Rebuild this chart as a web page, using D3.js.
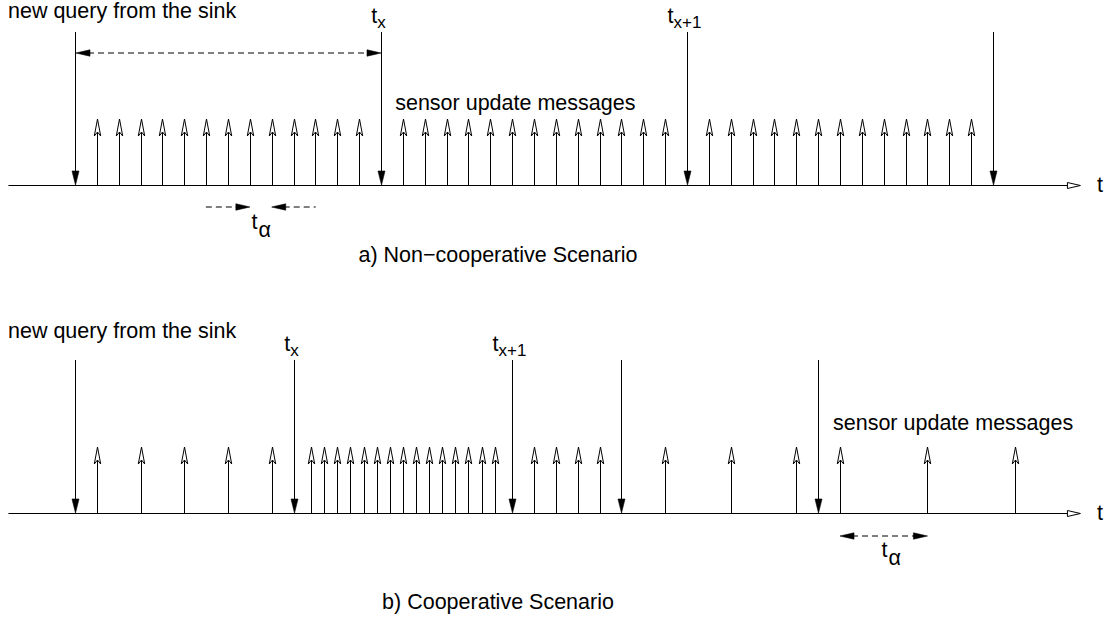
<!DOCTYPE html>
<html>
<head>
<meta charset="utf-8">
<script src="https://cdn.jsdelivr.net/npm/d3@7"></script>
<style>
  body { margin: 0; background: #fff; }
  svg text { font-family: 'Liberation Sans', Arial, Helvetica, sans-serif; font-size: 21.5px; fill: #000; }
</style>
</head>
<body>
<div id="chart"></div>
<script>
// time is counted in sensor update periods, 0 = first query from the sink
const topQueries = [0, 14, 28, 42]
const topUpdates = [1, 2, 3, 4, 5, 6, 7, 8, 9, 10, 11, 12, 13,
  15, 16, 17, 18, 19, 20, 21, 22, 23, 24, 25, 26, 27,
  29, 30, 31, 32, 33, 34, 35, 36, 37, 38, 39, 40, 41]
const topMarks = [{ at: 14, sub: 'x' }, { at: 28, sub: 'x+1' }]

const bottomQueries = [0, 10, 20, 25, 34]
const bottomUpdates = [1, 3, 5, 7, 9,
  10.8, 11.4, 12.0, 12.6, 13.2, 13.8, 14.4, 15.0, 15.6, 16.2, 16.8, 17.4, 18.0, 18.6, 19.2,
  21, 22, 23, 24, 27, 30, 33, 35, 39, 43]
const bottomMarks = [{ at: 10, sub: 'x' }, { at: 20, sub: 'x+1' }]

const axisExtent = [-3.07, 46]

const width = 1105
const height = 619
const QUERY_H = 153
const UPDATE_H = 66

const panels = [
  {
    baseline: 185,
    queries: topQueries,
    updates: topUpdates,
    marks: topMarks,
    queryLabelY: 18,
    msgLabel: { at: 14.65, dy: -75 },
    span: { from: 0, to: 14, dy: -132 },
    alpha: { from: 8, to: 9, inward: true, dy: 22, shift: 0 },
    caption: 'a) Non\u2212cooperative Scenario',
    captionDy: 77
  },
  {
    baseline: 513,
    queries: bottomQueries,
    updates: bottomUpdates,
    marks: bottomMarks,
    queryLabelY: 338,
    msgLabel: { at: 34.68, dy: -83 },
    span: null,
    alpha: { from: 35, to: 39, inward: false, dy: 23, shift: 7 },
    caption: 'b) Cooperative Scenario',
    captionDy: 96
  }
]

const x = d3.scaleLinear()
  .domain([0, 42])
  .range([75, 993])

const axisScale = x.copy()
  .domain(axisExtent)
  .range([x(axisExtent[0]), x(axisExtent[1]) - 13])

const px = v => Math.round(x(v)) + 0.5

const svg = d3.select('#chart').append('svg')
  .attr('width', width)
  .attr('height', height)

// filled head pointing at (tx, ty) coming from direction (dx, dy)
function filledHead (g, tx, ty, dx, dy, len, half) {
  const bx = tx - dx * len
  const by = ty - dy * len
  g.append('path')
    .attr('d', `M${tx},${ty}L${bx - dy * half},${by + dx * half}L${bx + dy * half},${by - dx * half}Z`)
    .attr('fill', '#000')
    .attr('stroke', '#000')
    .attr('stroke-width', 0.6)
}

function dashedSpan (g, x0, x1, y, inward) {
  const line = g.append('g')
  if (inward) {
    line.append('line').attr('x1', x0 - 44).attr('x2', x0 - 12).attr('y1', y).attr('y2', y)
    line.append('line').attr('x1', x1 + 12).attr('x2', x1 + 44).attr('y1', y).attr('y2', y)
    filledHead(g, x0, y, 1, 0, 14, 3.2)
    filledHead(g, x1, y, -1, 0, 14, 3.2)
  } else {
    line.append('line').attr('x1', x0 + 12).attr('x2', x1 - 12).attr('y1', y).attr('y2', y)
    filledHead(g, x0, y, -1, 0, 14, 3.2)
    filledHead(g, x1, y, 1, 0, 14, 3.2)
  }
  line.selectAll('line')
    .attr('stroke', '#000')
    .attr('stroke-width', 1)
    .attr('stroke-dasharray', '6,4')
}

panels.forEach(p => {
  const g = svg.append('g')
  const base = p.baseline

  //
  // time axis with open arrow head
  g.append('g')
    .attr('transform', `translate(0, ${base})`)
    .call(d3.axisBottom(axisScale).tickValues([]).tickSizeOuter(0))
    .call(a => a.select('.domain').attr('stroke', '#000'))
  const tipX = x(axisExtent[1])
  g.append('path')
    .attr('d', `M${tipX - 13},${base - 2.5}L${tipX},${base + 0.5}L${tipX - 13},${base + 3.5}Z`)
    .attr('fill', '#fff')
    .attr('stroke', '#000')
  g.append('text')
    .attr('x', 1097)
    .attr('y', base + 7)
    .text('t')

  //
  // sensor updates: open notched heads
  const ups = g.selectAll('.update')
    .data(p.updates)
    .join('g')
    .attr('class', 'update')
  ups.append('line')
    .attr('x1', d => px(d))
    .attr('x2', d => px(d))
    .attr('y1', base - UPDATE_H + 13)
    .attr('y2', base)
    .attr('stroke', '#000')
  ups.append('path')
    .attr('d', d => {
      const cx = px(d)
      const ty = base - UPDATE_H
      return `M${cx},${ty}L${cx + 3.2},${ty + 17}L${cx},${ty + 13}L${cx - 3.2},${ty + 17}Z`
    })
    .attr('fill', '#fff')
    .attr('stroke', '#000')

  //
  // queries from the sink: filled heads down to the axis
  const qs = g.selectAll('.query')
    .data(p.queries)
    .join('g')
    .attr('class', 'query')
  qs.append('line')
    .attr('x1', d => px(d))
    .attr('x2', d => px(d))
    .attr('y1', base - QUERY_H)
    .attr('y2', base - 12)
    .attr('stroke', '#000')
  qs.each(function (d) {
    filledHead(d3.select(this), px(d), base, 0, 1, 14, 3.5)
  })

  //
  // t_x labels above query arrows
  p.marks.forEach(m => {
    const label = g.append('text')
      .attr('y', base - QUERY_H - 9)
    label.append('tspan').text('t')
    const sub = label.append('tspan')
      .attr('dy', 5)
      .attr('font-size', '17px')
      .text(m.sub)
    const subW = sub.node().getComputedTextLength()
    label.attr('x', px(m.at) - 6 - subW / 2)
  })

  //
  // texts
  g.append('text')
    .attr('x', 8)
    .attr('y', p.queryLabelY)
    .text('new query from the sink')
  g.append('text')
    .attr('x', x(p.msgLabel.at))
    .attr('y', base + p.msgLabel.dy)
    .text('sensor update messages')
  g.append('text')
    .attr('x', 498)
    .attr('y', base + p.captionDy)
    .attr('text-anchor', 'middle')
    .text(p.caption)

  //
  // intervals
  if (p.span) {
    dashedSpan(g, x(p.span.from) + 1, x(p.span.to), base + p.span.dy, false)
  }
  const a = p.alpha
  dashedSpan(g, x(a.from), x(a.to), base + a.dy, a.inward)
  const alphaLabel = g.append('text')
    .attr('y', base + 44)
  alphaLabel.append('tspan').text('t')
  alphaLabel.append('tspan')
    .attr('dx', 1)
    .attr('dy', 8)
    .text('\u03b1')
  const aw = alphaLabel.node().getComputedTextLength()
  alphaLabel.attr('x', (x(a.from) + x(a.to)) / 2 - aw / 2 + a.shift)
})
</script>
</body>
</html>
